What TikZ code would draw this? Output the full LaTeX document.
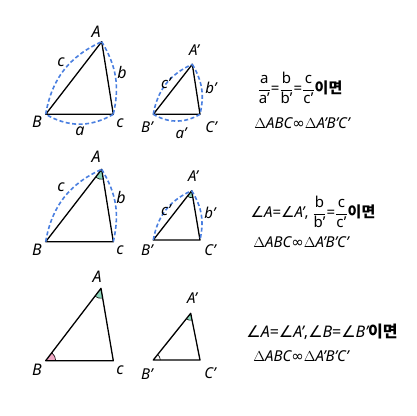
\documentclass[tikz,border=0pt]{standalone}
\usepackage{amsmath}
\usepackage{fontspec}
\setmainfont{Noto Sans}
\newfontfamily\kr{Noto Sans CJK KR}
\newfontfamily\dv{DejaVu Sans}
\usetikzlibrary{angles}
\definecolor{dashblue}{HTML}{4A7FE0}
\definecolor{angG}{HTML}{8ED6BC}
\definecolor{angP}{HTML}{EFA8C4}
\tikzset{
  tri/.style={line width=1.3pt, line join=round},
  arcd/.style={dashblue, line width=1.6pt, dash pattern=on 4pt off 2.5pt},
  lab/.style={font=\fontsize{16}{18}\selectfont\itshape, inner sep=0pt},
  labs/.style={font=\fontsize{15}{17}\selectfont\itshape, inner sep=0pt},
  txt/.style={font=\fontsize{15}{17}\selectfont, inner sep=0pt},
  txtb/.style={font=\fontsize{16}{18}\selectfont, inner sep=0pt},
  angm/.style={draw, line width=0.6pt},
}
\newcommand{\simtxt}{$\Delta$\itshape ABC{\dv\upshape ∞}$\Delta$A’B’C’}
\newcommand{\ang}{{\dv\upshape ∠}}
\newcommand{\fr}[2]{$\dfrac{\text{#1}}{\text{#2}}$}
\begin{document}
\begin{tikzpicture}[x=1pt,y=-1pt]
\useasboundingbox (0,0) rectangle (416,416);
% ---------- row 1 ----------
\coordinate (A1) at (101.7,41.7);
\coordinate (B1) at (45.7,114.3);
\coordinate (C1) at (113.3,114.3);
\draw[tri] (A1) -- (B1) -- (C1) -- cycle;
\draw[arcd] (B1) to[bend left=28] (A1);
\draw[arcd] (A1) to[bend left=22] (C1);
\draw[arcd] (C1) to[bend left=30] (B1);
\node[lab] (lA1) at (96,32) {A};
\node[lab] (lB1) at (37,122) {B};
\node[lab] (lC1) at (120,123) {c};
\node[lab] (lc1) at (61,62) {c};
\node[lab] (lb1) at (122,72) {b};
\node[lab] (la1) at (80,131) {a};

\coordinate (A2) at (192.3,64.3);
\coordinate (B2) at (153.3,114.3);
\coordinate (C2) at (200,114.3);
\draw[tri] (A2) -- (B2) -- (C2) -- cycle;
\draw[arcd] (B2) to[bend left=28] (A2);
\draw[arcd] (A2) to[bend left=22] (C2);
\draw[arcd] (C2) to[bend left=30] (B2);
\node[labs] (lA2) at (194,50) {A’};
\node[labs] (lB2) at (147,127) {B’};
\node[labs] (lC2) at (211,127) {C’};
\node[labs] (lc2) at (166,83) {c’};
\node[labs] (lb2) at (211,88) {b’};
\node[labs] (la2) at (181,133) {a’};

\node[txt] (t11) at (300,88) {\fr{a}{a’}=\fr{b}{b’}=\fr{c}{c’}{\kr\bfseries 이면}};
\node[txt] (t12) at (302,123) {\simtxt};

% ---------- row 2 ----------
\coordinate (A3) at (101.7,169.3);
\coordinate (B3) at (45.7,241.7);
\coordinate (C3) at (113.3,241.7);
\pic[angm, fill=angG, angle radius=10pt] {angle=B3--A3--C3};
\draw[tri] (A3) -- (B3) -- (C3) -- cycle;
\draw[arcd] (B3) to[bend left=28] (A3);
\draw[arcd] (A3) to[bend left=22] (C3);
\node[lab] (lA3) at (96,157) {A};
\node[lab] (lB3) at (37,250) {B};
\node[lab] (lC3) at (120,250) {c};
\node[lab] (lc3) at (61,187) {c};
\node[lab] (lb3) at (121,197) {b};

\coordinate (A4) at (191.7,190.7);
\coordinate (B4) at (153.3,240);
\coordinate (C4) at (200,240);
\pic[angm, fill=angG, angle radius=7pt] {angle=B4--A4--C4};
\draw[tri] (A4) -- (B4) -- (C4) -- cycle;
\draw[arcd] (B4) to[bend left=28] (A4);
\draw[arcd] (A4) to[bend left=22] (C4);
\node[labs] (lA4) at (193,176) {A’};
\node[labs] (lB4) at (147,250) {B’};
\node[labs] (lC4) at (210,250) {C’};
\node[labs] (lc4) at (166,210) {c’};
\node[labs] (lb4) at (210,213) {b’};

\node[txt] (t21) at (313,212) {\ang{\itshape A}={\ang}{\itshape A’}, \fr{b}{b’}=\fr{c}{c’}{\kr\bfseries 이면}};
\node[txt] (t22) at (301,242) {\simtxt};

% ---------- row 3 ----------
\coordinate (A5) at (101,288.3);
\coordinate (B5) at (45.7,360.7);
\coordinate (C5) at (113.3,360.7);
\pic[angm, fill=angG, angle radius=10pt] {angle=B5--A5--C5};
\pic[angm, fill=angP, angle radius=10pt] {angle=C5--B5--A5};
\draw[tri] (A5) -- (B5) -- (C5) -- cycle;
\node[lab] (lA5) at (97,277) {A};
\node[lab] (lB5) at (37,370) {B};
\node[lab] (lC5) at (120,370) {c};

\coordinate (A6) at (190.7,313.3);
\coordinate (B6) at (153.3,360);
\coordinate (C6) at (200,360);
\pic[angm, fill=angG, angle radius=7pt] {angle=B6--A6--C6};
\pic[angm, angle radius=7pt] {angle=C6--B6--A6};
\draw[tri] (A6) -- (B6) -- (C6) -- cycle;
\node[labs] (lA6) at (192,298) {A’};
\node[labs] (lB6) at (147,374) {B’};
\node[labs] (lC6) at (210,373) {C’};

\node[txtb] (t31) at (322,332) {\ang{\itshape A}={\ang}{\itshape A’},{\ang}{\itshape B}={\ang}{\itshape B’}{\kr\bfseries 이면}};
\node[txt] (t32) at (301,356) {\simtxt};
\end{tikzpicture}
\end{document}
